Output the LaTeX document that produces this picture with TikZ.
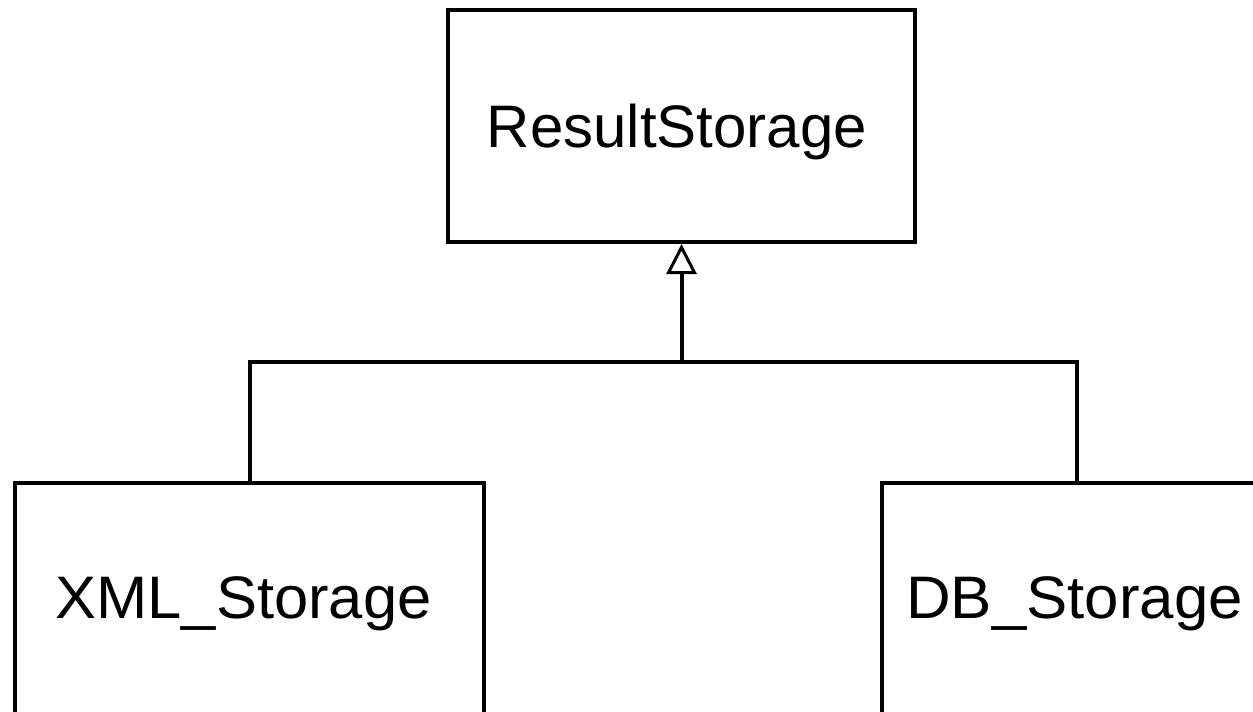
\documentclass[tikz,border=0pt]{standalone}
\usepackage{fontspec}
\setmainfont{Liberation Sans}
\usetikzlibrary{arrows.meta}
\begin{document}
\begin{tikzpicture}[x=1pt,y=-1pt,
  cls/.style={draw=black,line width=4pt,rectangle,inner sep=0pt},
  lbl/.style={font=\fontsize{60}{72}\selectfont,inner sep=0pt,anchor=base},
  conn/.style={draw=black,line width=4pt},
  inh/.style={-{Triangle[open,length=30pt,width=30pt,line width=3pt]}}]
\useasboundingbox (0,0) rectangle (1253,712);
\clip (0,0) rectangle (1253,712);
\node[cls,minimum width=467pt,minimum height=232pt] (rs) at (681.5,126) {};
\node[cls,minimum width=469pt,minimum height=367pt] (xml) at (249.5,666.5) {};
\node[cls,minimum width=390pt,minimum height=367pt] (db) at (1077,666.5) {};
\node[lbl] (rst) at (677,147) {ResultStorage};
\node[lbl,xscale=1.025] (xmlt) at (243.5,618) {XML\_Storage};
\node[lbl,xscale=1.03] (dbt) at (1074.5,618) {DB\_Storage};
\coordinate (j) at (681.5,362);
\draw[conn] (xml.north) |- (j) -| (db.north);
\draw[conn,inh] (j) -- (rs.south);
\end{tikzpicture}
\end{document}
